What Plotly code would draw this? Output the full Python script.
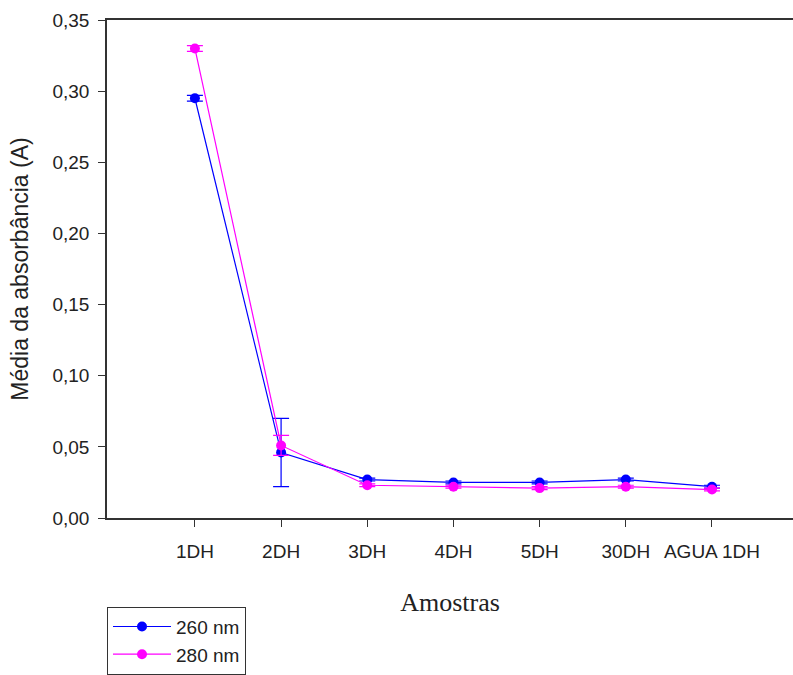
import plotly.graph_objects as go

categories = ["1DH", "2DH", "3DH", "4DH", "5DH", "30DH", "AGUA 1DH"]
abs_260 = [0.295, 0.046, 0.027, 0.025, 0.025, 0.027, 0.022]
err_260 = [0.002, 0.024, 0.001, 0.001, 0.001, 0.001, 0.001]
abs_280 = [0.330, 0.051, 0.023, 0.022, 0.021, 0.022, 0.020]
err_280 = [0.002, 0.007, 0.001, 0.001, 0.001, 0.001, 0.001]
y_ticks = [0.0, 0.05, 0.10, 0.15, 0.20, 0.25, 0.30, 0.35]
y_tick_labels = ["0,00", "0,05", "0,10", "0,15", "0,20", "0,25", "0,30", "0,35"]

xi = list(range(len(categories)))

fig = go.Figure()
fig.add_trace(go.Scatter(
    x=xi, y=abs_260, name="260 nm", mode="lines+markers",
    line=dict(color="#0000ff", width=1.2),
    marker=dict(color="#0000ff", size=10, symbol="circle"),
    error_y=dict(type="data", array=err_260, color="#0000ff", thickness=1.2, width=8),
))
fig.add_trace(go.Scatter(
    x=xi, y=abs_280, name="280 nm", mode="lines+markers",
    line=dict(color="#ff00ff", width=1.2),
    marker=dict(color="#ff00ff", size=10, symbol="circle"),
    error_y=dict(type="data", array=err_280, color="#ff00ff", thickness=1.2, width=8),
))

fig.update_layout(
    width=793, height=675,
    margin=dict(l=107, r=0, t=20, b=157),
    paper_bgcolor="white", plot_bgcolor="white",
    font=dict(family="Arial, Liberation Sans", size=19, color="#222"),
    showlegend=True,
    legend=dict(
        x=0, y=-0.178, xanchor="left", yanchor="top",
        bordercolor="#333", borderwidth=1,
        font=dict(family="Arial, Liberation Sans", size=19, color="#222"),
        tracegroupgap=0, itemwidth=58,
    ),
    xaxis=dict(
        range=[-1.02, 6.94],
        tickmode="array", tickvals=xi, ticktext=categories,
        showline=True, linecolor="#333", linewidth=1.5, mirror=True,
        ticks="outside", ticklen=7, tickcolor="#333",
        ticklabelstandoff=8,
        showgrid=False, zeroline=False,
        title=dict(text="Amostras", font=dict(family="Times New Roman, Liberation Serif", size=26, color="#222"), standoff=32),
    ),
    yaxis=dict(
        range=[0, 0.35],
        tickmode="array", tickvals=y_ticks, ticktext=y_tick_labels,
        showline=True, linecolor="#333", linewidth=1.5,
        ticks="outside", ticklen=7, tickcolor="#333",
        ticklabelstandoff=5,
        showgrid=False, zeroline=False,
        title=dict(text="Média da absorbância (A)", font=dict(family="Arial, Liberation Sans", size=23, color="#222"), standoff=17),
    ),
)

fig.write_html("out.html")
